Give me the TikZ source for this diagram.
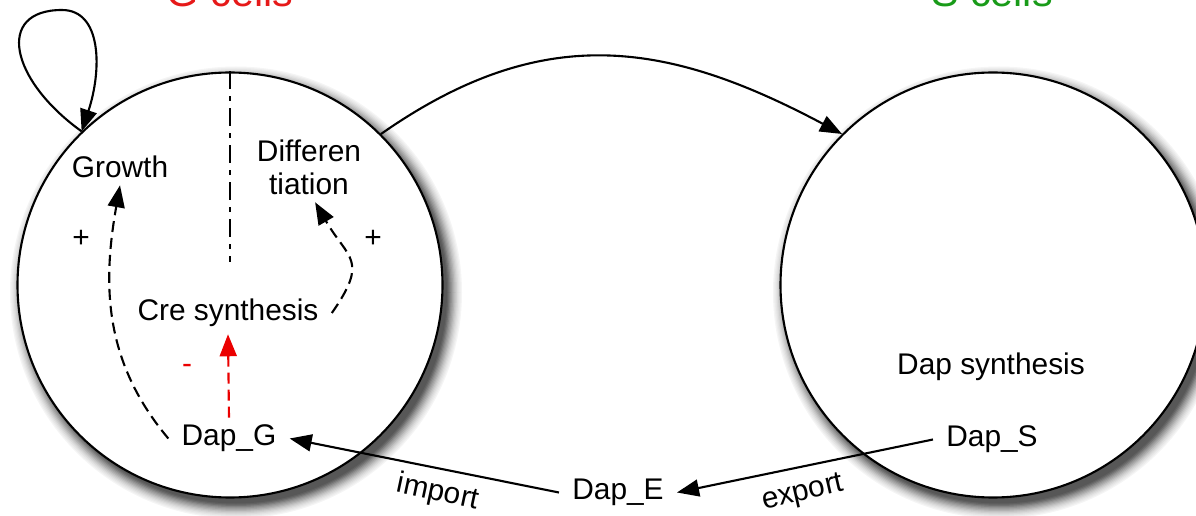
\documentclass[tikz,border=0pt]{standalone}
\usepackage{fontspec}
\setmainfont{Liberation Sans}
\usetikzlibrary{arrows.meta}
\definecolor{gcellred}{RGB}{230, 25, 25}
\definecolor{scellgreen}{RGB}{25, 155, 25}
\definecolor{inhibred}{RGB}{235, 0, 0}

\begin{document}
\begin{tikzpicture}[font=\fontsize{17}{18.8}\selectfont,
    cell/.style={circle, draw, line width=1.2pt, fill=white, minimum size=8.5cm, inner sep=0pt},
    lbl/.style={inner xsep=0.26cm, inner ysep=0.14cm},
    conn/.style={line width=1.2pt, -{Triangle[length=0.44cm, width=0.34cm]}},
    effect/.style={conn, dash pattern=on 0.22cm off 0.12cm}]
  \useasboundingbox (0,0) rectangle (23.92,10.3);
  \foreach \cx in {4.72, 19.98}
    \foreach \r/\g in {4.52/4, 4.495/7, 4.47/10, 4.445/14, 4.42/19, 4.395/24, 4.37/30,
                       4.345/36, 4.32/42, 4.295/49, 4.27/56, 4.245/62, 4.22/66}
      \fill[black!\g] (\cx,4.45) circle[radius=\r cm];
  \node[cell] (gcell) at (4.60,4.60) {};
  \node[cell] (scell) at (19.86,4.60) {};
  \node[text=gcellred, font=\fontsize{23.5}{26}\selectfont, anchor=base] (gtitle) at (4.60,10.17) {G cells};
  \node[text=scellgreen, font=\fontsize{23.5}{26}\selectfont, anchor=base] (stitle) at (19.84,10.17) {S cells};

  \coordinate (divend) at (4.60,5.06);
  \draw[line width=1.1pt, dash pattern=on 0.36cm off 0.14cm on 0.1cm off 0.14cm] (gcell.north) -- (divend);

  \node[lbl] (growth) at (2.40,6.96) {Growth};
  \node[lbl, align=center] (diff) at (6.18,6.95) {Differen\\tiation};
  \node[lbl] (cre) at (4.56,4.04) {Cre synthesis};
  \node[lbl] (dapg) at (4.58,1.53) {Dap\_G};
  \node[lbl] (dape) at (12.36,0.45) {Dap\_E};
  \node[lbl] (dapsyn) at (19.82,2.97) {Dap synthesis};
  \node[lbl] (daps) at (19.84,1.51) {Dap\_S};
  \node (plusgrowth) at (1.62,5.52) {+};
  \node (plusdiff) at (7.46,5.52) {+};
  \node[text=inhibred] (minuscre) at (3.74,2.93) {-};
  \node[rotate=-12] (lblimport) at (8.76,0.44) {import};
  \node[rotate=13] (lblexport) at (16.06,0.43) {export};

  \draw[conn] (gcell.134) .. controls (0.2,8.7) and (-0.1,10.1) .. (1.24,10.1)
    .. controls (2.04,10.1) and (2.04,8.9) .. (gcell.134);
  \draw[conn] (gcell.45) to[out=35, in=152, looseness=1.1] (scell.135);
  \draw[effect] (dapg.west) to[out=130, in=260] (growth.south);
  \draw[effect] (cre.east) to[out=55, in=-60, looseness=1.5] (diff.-80);
  \draw[effect, inhibred] (dapg.north) -- (cre.south);
  \draw[conn] (dape.west) -- (dapg.east);
  \draw[conn] (daps.west) -- (dape.east);
\end{tikzpicture}
\end{document}
